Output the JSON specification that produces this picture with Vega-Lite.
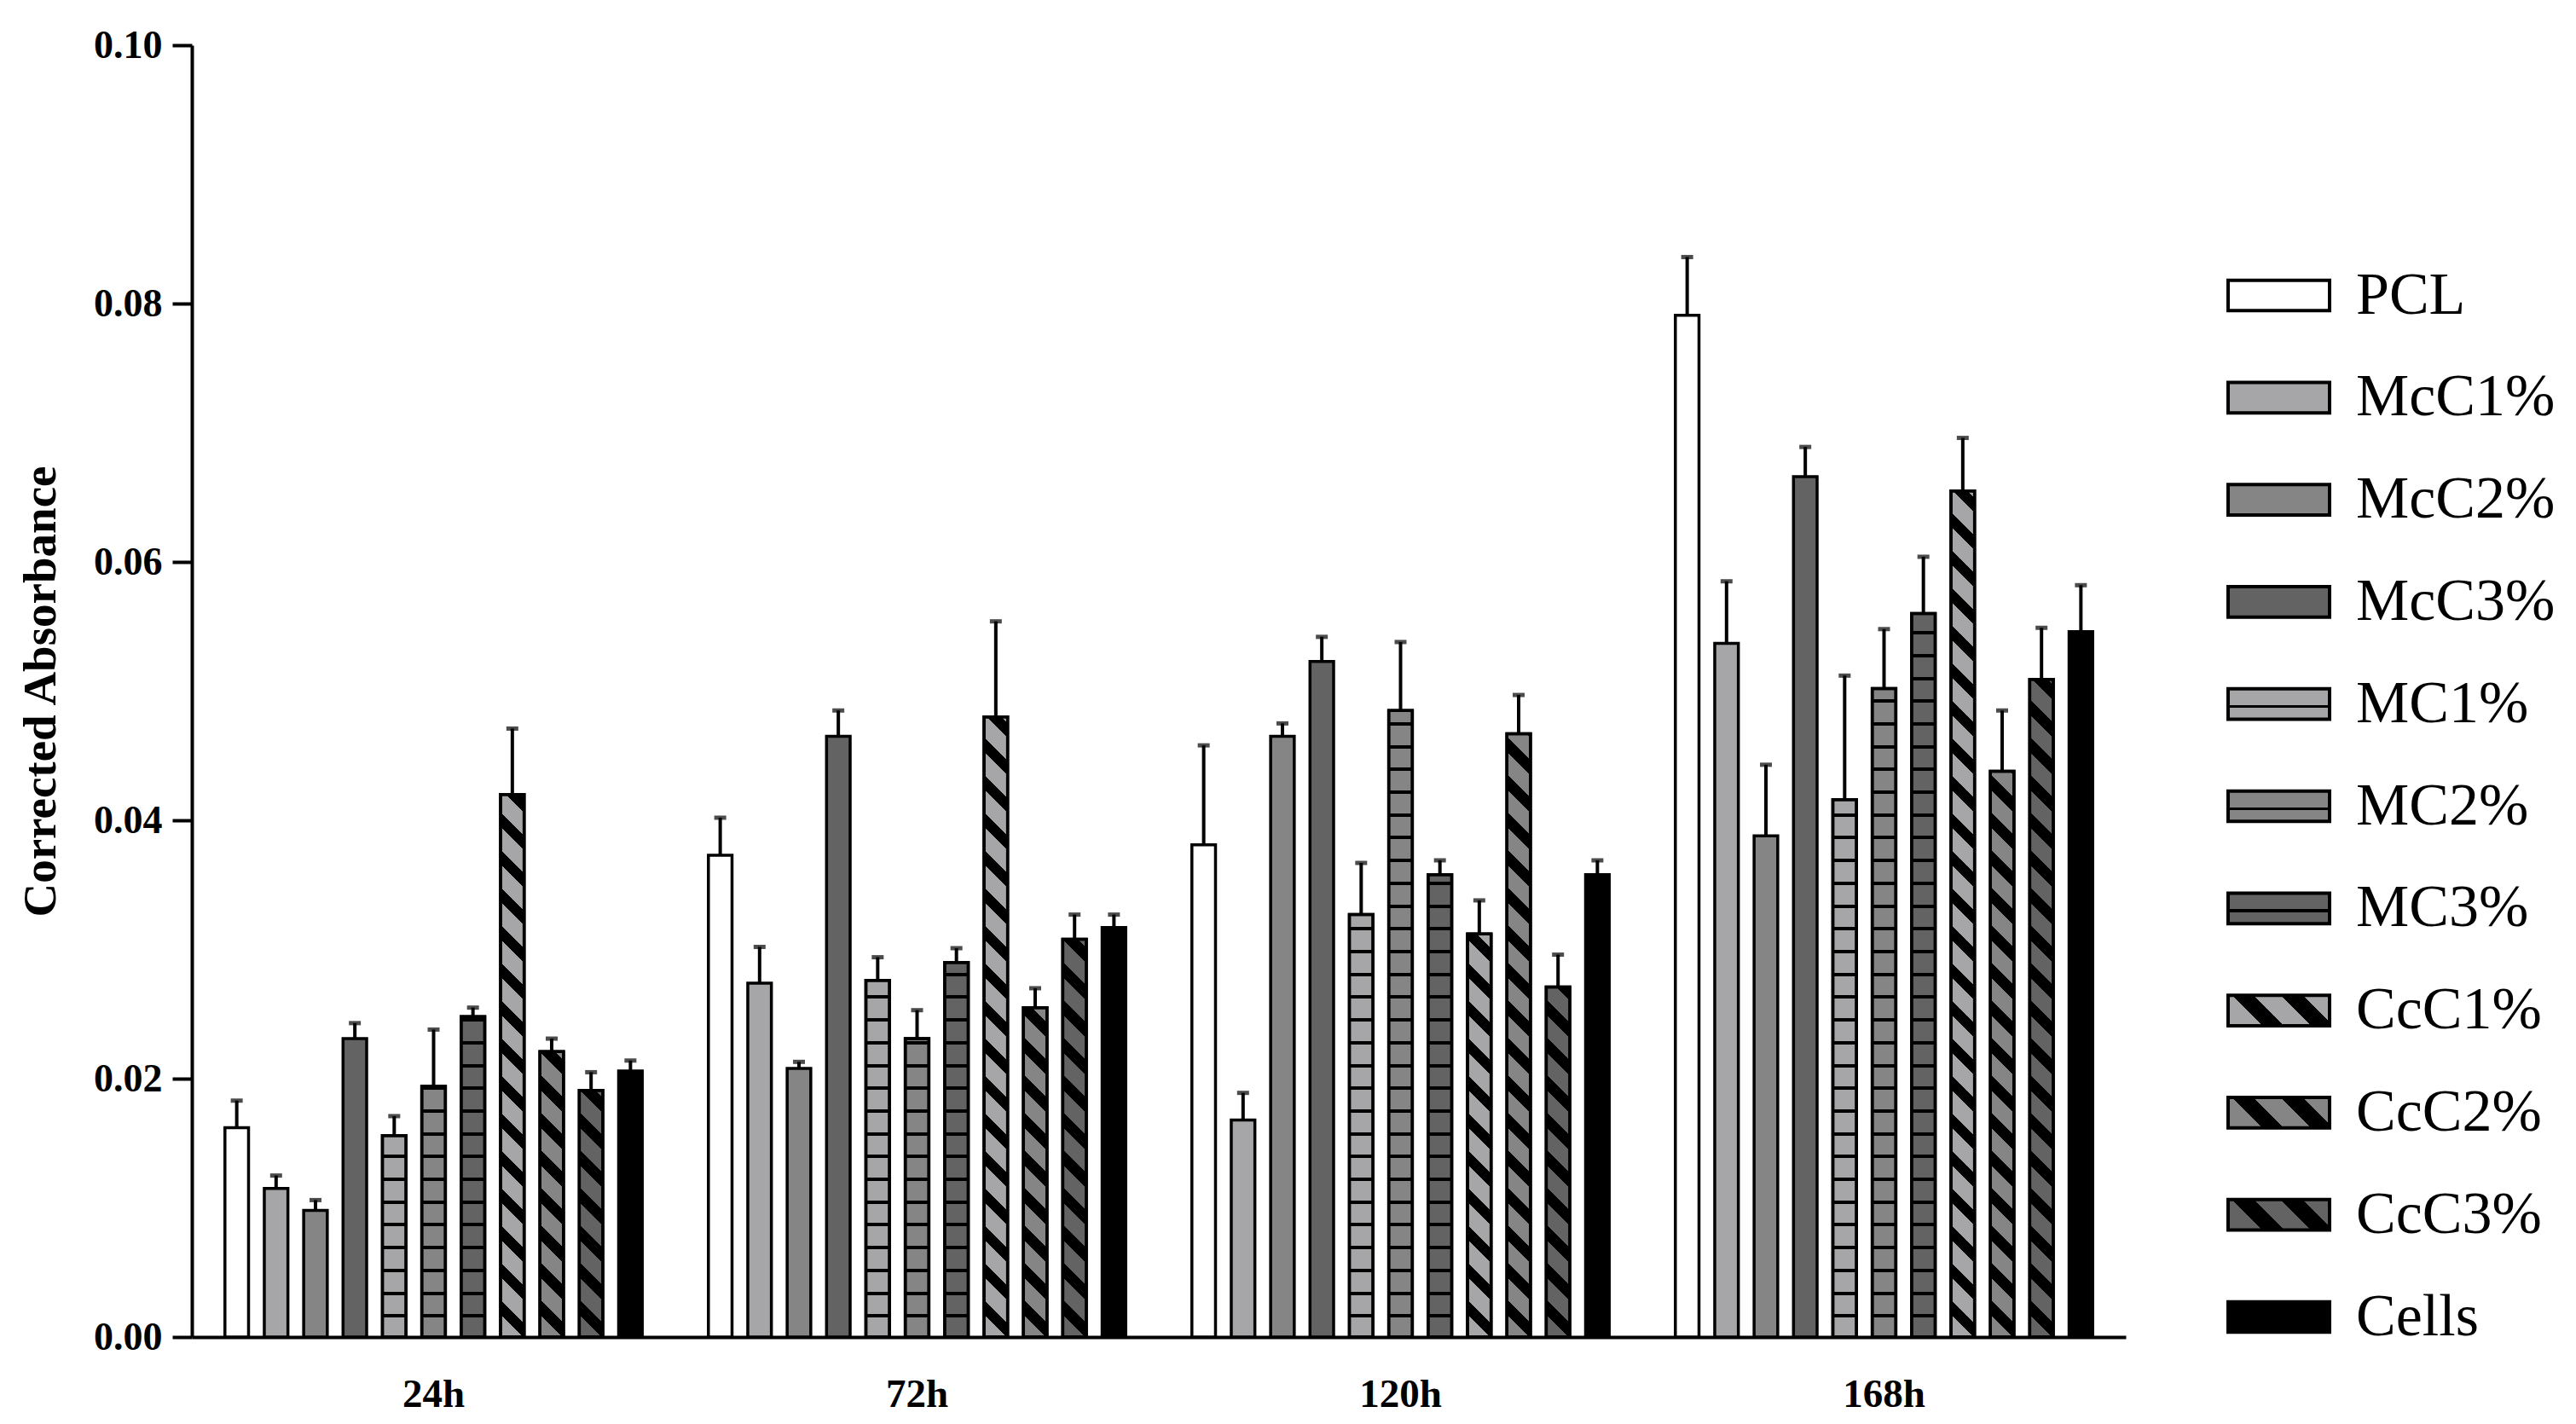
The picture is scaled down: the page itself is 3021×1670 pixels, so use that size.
{
  "$schema": "https://vega.github.io/schema/vega-lite/v6.json",
  "width": 2268,
  "height": 1515,
  "autosize": "none",
  "padding": {"left": 225, "top": 53, "right": 528, "bottom": 102},
  "background": "white",
  "params": [
    {"name": "hstops", "value": [
      {"offset":0,"color":"rgba(0,0,0,0)"},
      {"offset":0.02501,"color":"rgba(0,0,0,0)"},{"offset":0.02501,"color":"#000"},{"offset":0.02941,"color":"#000"},{"offset":0.02941,"color":"rgba(0,0,0,0)"},
      {"offset":0.05442,"color":"rgba(0,0,0,0)"},{"offset":0.05442,"color":"#000"},{"offset":0.05882,"color":"#000"},{"offset":0.05882,"color":"rgba(0,0,0,0)"},
      {"offset":0.08384,"color":"rgba(0,0,0,0)"},{"offset":0.08384,"color":"#000"},{"offset":0.08824,"color":"#000"},{"offset":0.08824,"color":"rgba(0,0,0,0)"},
      {"offset":0.11325,"color":"rgba(0,0,0,0)"},{"offset":0.11325,"color":"#000"},{"offset":0.11765,"color":"#000"},{"offset":0.11765,"color":"rgba(0,0,0,0)"},
      {"offset":0.14266,"color":"rgba(0,0,0,0)"},{"offset":0.14266,"color":"#000"},{"offset":0.14706,"color":"#000"},{"offset":0.14706,"color":"rgba(0,0,0,0)"},
      {"offset":0.17207,"color":"rgba(0,0,0,0)"},{"offset":0.17207,"color":"#000"},{"offset":0.17647,"color":"#000"},{"offset":0.17647,"color":"rgba(0,0,0,0)"},
      {"offset":0.20148,"color":"rgba(0,0,0,0)"},{"offset":0.20148,"color":"#000"},{"offset":0.20588,"color":"#000"},{"offset":0.20588,"color":"rgba(0,0,0,0)"},
      {"offset":0.23089,"color":"rgba(0,0,0,0)"},{"offset":0.23089,"color":"#000"},{"offset":0.23529,"color":"#000"},{"offset":0.23529,"color":"rgba(0,0,0,0)"},
      {"offset":0.26031,"color":"rgba(0,0,0,0)"},{"offset":0.26031,"color":"#000"},{"offset":0.26471,"color":"#000"},{"offset":0.26471,"color":"rgba(0,0,0,0)"},
      {"offset":0.28972,"color":"rgba(0,0,0,0)"},{"offset":0.28972,"color":"#000"},{"offset":0.29412,"color":"#000"},{"offset":0.29412,"color":"rgba(0,0,0,0)"},
      {"offset":0.31913,"color":"rgba(0,0,0,0)"},{"offset":0.31913,"color":"#000"},{"offset":0.32353,"color":"#000"},{"offset":0.32353,"color":"rgba(0,0,0,0)"},
      {"offset":0.34854,"color":"rgba(0,0,0,0)"},{"offset":0.34854,"color":"#000"},{"offset":0.35294,"color":"#000"},{"offset":0.35294,"color":"rgba(0,0,0,0)"},
      {"offset":0.37795,"color":"rgba(0,0,0,0)"},{"offset":0.37795,"color":"#000"},{"offset":0.38235,"color":"#000"},{"offset":0.38235,"color":"rgba(0,0,0,0)"},
      {"offset":0.40736,"color":"rgba(0,0,0,0)"},{"offset":0.40736,"color":"#000"},{"offset":0.41176,"color":"#000"},{"offset":0.41176,"color":"rgba(0,0,0,0)"},
      {"offset":0.43678,"color":"rgba(0,0,0,0)"},{"offset":0.43678,"color":"#000"},{"offset":0.44118,"color":"#000"},{"offset":0.44118,"color":"rgba(0,0,0,0)"},
      {"offset":0.46619,"color":"rgba(0,0,0,0)"},{"offset":0.46619,"color":"#000"},{"offset":0.47059,"color":"#000"},{"offset":0.47059,"color":"rgba(0,0,0,0)"},
      {"offset":0.4956,"color":"rgba(0,0,0,0)"},{"offset":0.4956,"color":"#000"},{"offset":0.5,"color":"#000"},{"offset":0.5,"color":"rgba(0,0,0,0)"},
      {"offset":0.52501,"color":"rgba(0,0,0,0)"},{"offset":0.52501,"color":"#000"},{"offset":0.52941,"color":"#000"},{"offset":0.52941,"color":"rgba(0,0,0,0)"},
      {"offset":0.55442,"color":"rgba(0,0,0,0)"},{"offset":0.55442,"color":"#000"},{"offset":0.55882,"color":"#000"},{"offset":0.55882,"color":"rgba(0,0,0,0)"},
      {"offset":0.58384,"color":"rgba(0,0,0,0)"},{"offset":0.58384,"color":"#000"},{"offset":0.58824,"color":"#000"},{"offset":0.58824,"color":"rgba(0,0,0,0)"},
      {"offset":0.61325,"color":"rgba(0,0,0,0)"},{"offset":0.61325,"color":"#000"},{"offset":0.61765,"color":"#000"},{"offset":0.61765,"color":"rgba(0,0,0,0)"},
      {"offset":0.64266,"color":"rgba(0,0,0,0)"},{"offset":0.64266,"color":"#000"},{"offset":0.64706,"color":"#000"},{"offset":0.64706,"color":"rgba(0,0,0,0)"},
      {"offset":0.67207,"color":"rgba(0,0,0,0)"},{"offset":0.67207,"color":"#000"},{"offset":0.67647,"color":"#000"},{"offset":0.67647,"color":"rgba(0,0,0,0)"},
      {"offset":0.70148,"color":"rgba(0,0,0,0)"},{"offset":0.70148,"color":"#000"},{"offset":0.70588,"color":"#000"},{"offset":0.70588,"color":"rgba(0,0,0,0)"},
      {"offset":0.73089,"color":"rgba(0,0,0,0)"},{"offset":0.73089,"color":"#000"},{"offset":0.73529,"color":"#000"},{"offset":0.73529,"color":"rgba(0,0,0,0)"},
      {"offset":0.76031,"color":"rgba(0,0,0,0)"},{"offset":0.76031,"color":"#000"},{"offset":0.76471,"color":"#000"},{"offset":0.76471,"color":"rgba(0,0,0,0)"},
      {"offset":0.78972,"color":"rgba(0,0,0,0)"},{"offset":0.78972,"color":"#000"},{"offset":0.79412,"color":"#000"},{"offset":0.79412,"color":"rgba(0,0,0,0)"},
      {"offset":0.81913,"color":"rgba(0,0,0,0)"},{"offset":0.81913,"color":"#000"},{"offset":0.82353,"color":"#000"},{"offset":0.82353,"color":"rgba(0,0,0,0)"},
      {"offset":0.84854,"color":"rgba(0,0,0,0)"},{"offset":0.84854,"color":"#000"},{"offset":0.85294,"color":"#000"},{"offset":0.85294,"color":"rgba(0,0,0,0)"},
      {"offset":0.87795,"color":"rgba(0,0,0,0)"},{"offset":0.87795,"color":"#000"},{"offset":0.88235,"color":"#000"},{"offset":0.88235,"color":"rgba(0,0,0,0)"},
      {"offset":0.90736,"color":"rgba(0,0,0,0)"},{"offset":0.90736,"color":"#000"},{"offset":0.91176,"color":"#000"},{"offset":0.91176,"color":"rgba(0,0,0,0)"},
      {"offset":0.93678,"color":"rgba(0,0,0,0)"},{"offset":0.93678,"color":"#000"},{"offset":0.94118,"color":"#000"},{"offset":0.94118,"color":"rgba(0,0,0,0)"},
      {"offset":0.96619,"color":"rgba(0,0,0,0)"},{"offset":0.96619,"color":"#000"},{"offset":0.97059,"color":"#000"},{"offset":0.97059,"color":"rgba(0,0,0,0)"},
      {"offset":0.9956,"color":"rgba(0,0,0,0)"},{"offset":0.9956,"color":"#000"},{"offset":1,"color":"#000"},{"offset":1,"color":"rgba(0,0,0,0)"}
    ]},
    {"name": "dstops", "value": [
      {"offset":0,"color":"rgba(0,0,0,0)"},
      {"offset":0.025,"color":"rgba(0,0,0,0)"},{"offset":0.025,"color":"#000"},{"offset":0.041667,"color":"#000"},{"offset":0.041667,"color":"rgba(0,0,0,0)"},
      {"offset":0.066667,"color":"rgba(0,0,0,0)"},{"offset":0.066667,"color":"#000"},{"offset":0.083333,"color":"#000"},{"offset":0.083333,"color":"rgba(0,0,0,0)"},
      {"offset":0.108333,"color":"rgba(0,0,0,0)"},{"offset":0.108333,"color":"#000"},{"offset":0.125,"color":"#000"},{"offset":0.125,"color":"rgba(0,0,0,0)"},
      {"offset":0.15,"color":"rgba(0,0,0,0)"},{"offset":0.15,"color":"#000"},{"offset":0.166667,"color":"#000"},{"offset":0.166667,"color":"rgba(0,0,0,0)"},
      {"offset":0.191667,"color":"rgba(0,0,0,0)"},{"offset":0.191667,"color":"#000"},{"offset":0.208333,"color":"#000"},{"offset":0.208333,"color":"rgba(0,0,0,0)"},
      {"offset":0.233333,"color":"rgba(0,0,0,0)"},{"offset":0.233333,"color":"#000"},{"offset":0.25,"color":"#000"},{"offset":0.25,"color":"rgba(0,0,0,0)"},
      {"offset":0.275,"color":"rgba(0,0,0,0)"},{"offset":0.275,"color":"#000"},{"offset":0.291667,"color":"#000"},{"offset":0.291667,"color":"rgba(0,0,0,0)"},
      {"offset":0.316667,"color":"rgba(0,0,0,0)"},{"offset":0.316667,"color":"#000"},{"offset":0.333333,"color":"#000"},{"offset":0.333333,"color":"rgba(0,0,0,0)"},
      {"offset":0.358333,"color":"rgba(0,0,0,0)"},{"offset":0.358333,"color":"#000"},{"offset":0.375,"color":"#000"},{"offset":0.375,"color":"rgba(0,0,0,0)"},
      {"offset":0.4,"color":"rgba(0,0,0,0)"},{"offset":0.4,"color":"#000"},{"offset":0.416667,"color":"#000"},{"offset":0.416667,"color":"rgba(0,0,0,0)"},
      {"offset":0.441667,"color":"rgba(0,0,0,0)"},{"offset":0.441667,"color":"#000"},{"offset":0.458333,"color":"#000"},{"offset":0.458333,"color":"rgba(0,0,0,0)"},
      {"offset":0.483333,"color":"rgba(0,0,0,0)"},{"offset":0.483333,"color":"#000"},{"offset":0.5,"color":"#000"},{"offset":0.5,"color":"rgba(0,0,0,0)"},
      {"offset":0.525,"color":"rgba(0,0,0,0)"},{"offset":0.525,"color":"#000"},{"offset":0.541667,"color":"#000"},{"offset":0.541667,"color":"rgba(0,0,0,0)"},
      {"offset":0.566667,"color":"rgba(0,0,0,0)"},{"offset":0.566667,"color":"#000"},{"offset":0.583333,"color":"#000"},{"offset":0.583333,"color":"rgba(0,0,0,0)"},
      {"offset":0.608333,"color":"rgba(0,0,0,0)"},{"offset":0.608333,"color":"#000"},{"offset":0.625,"color":"#000"},{"offset":0.625,"color":"rgba(0,0,0,0)"},
      {"offset":0.65,"color":"rgba(0,0,0,0)"},{"offset":0.65,"color":"#000"},{"offset":0.666667,"color":"#000"},{"offset":0.666667,"color":"rgba(0,0,0,0)"},
      {"offset":0.691667,"color":"rgba(0,0,0,0)"},{"offset":0.691667,"color":"#000"},{"offset":0.708333,"color":"#000"},{"offset":0.708333,"color":"rgba(0,0,0,0)"},
      {"offset":0.733333,"color":"rgba(0,0,0,0)"},{"offset":0.733333,"color":"#000"},{"offset":0.75,"color":"#000"},{"offset":0.75,"color":"rgba(0,0,0,0)"},
      {"offset":0.775,"color":"rgba(0,0,0,0)"},{"offset":0.775,"color":"#000"},{"offset":0.791667,"color":"#000"},{"offset":0.791667,"color":"rgba(0,0,0,0)"},
      {"offset":0.816667,"color":"rgba(0,0,0,0)"},{"offset":0.816667,"color":"#000"},{"offset":0.833333,"color":"#000"},{"offset":0.833333,"color":"rgba(0,0,0,0)"},
      {"offset":0.858333,"color":"rgba(0,0,0,0)"},{"offset":0.858333,"color":"#000"},{"offset":0.875,"color":"#000"},{"offset":0.875,"color":"rgba(0,0,0,0)"},
      {"offset":0.9,"color":"rgba(0,0,0,0)"},{"offset":0.9,"color":"#000"},{"offset":0.916667,"color":"#000"},{"offset":0.916667,"color":"rgba(0,0,0,0)"},
      {"offset":0.941667,"color":"rgba(0,0,0,0)"},{"offset":0.941667,"color":"#000"},{"offset":0.958333,"color":"#000"},{"offset":0.958333,"color":"rgba(0,0,0,0)"},
      {"offset":0.983333,"color":"rgba(0,0,0,0)"},{"offset":0.983333,"color":"#000"},{"offset":1,"color":"#000"},{"offset":1,"color":"rgba(0,0,0,0)"}
    ]}
  ],
  "data": {"values": [
    {"time":"24h","series":"PCL","value":0.0162,"upper":0.0183},
    {"time":"24h","series":"McC1%","value":0.0115,"upper":0.0125},
    {"time":"24h","series":"McC2%","value":0.0098,"upper":0.0106},
    {"time":"24h","series":"McC3%","value":0.0231,"upper":0.0243},
    {"time":"24h","series":"MC1%","value":0.0156,"upper":0.0171},
    {"time":"24h","series":"MC2%","value":0.0194,"upper":0.0238},
    {"time":"24h","series":"MC3%","value":0.0248,"upper":0.0255},
    {"time":"24h","series":"CcC1%","value":0.0420,"upper":0.0471},
    {"time":"24h","series":"CcC2%","value":0.0221,"upper":0.0231},
    {"time":"24h","series":"CcC3%","value":0.0191,"upper":0.0205},
    {"time":"24h","series":"Cells","value":0.0206,"upper":0.0214},
    {"time":"72h","series":"PCL","value":0.0373,"upper":0.0402},
    {"time":"72h","series":"McC1%","value":0.0274,"upper":0.0302},
    {"time":"72h","series":"McC2%","value":0.0208,"upper":0.0213},
    {"time":"72h","series":"McC3%","value":0.0465,"upper":0.0485},
    {"time":"72h","series":"MC1%","value":0.0276,"upper":0.0294},
    {"time":"72h","series":"MC2%","value":0.0231,"upper":0.0253},
    {"time":"72h","series":"MC3%","value":0.0290,"upper":0.0301},
    {"time":"72h","series":"CcC1%","value":0.0480,"upper":0.0554},
    {"time":"72h","series":"CcC2%","value":0.0255,"upper":0.0270},
    {"time":"72h","series":"CcC3%","value":0.0308,"upper":0.0327},
    {"time":"72h","series":"Cells","value":0.0317,"upper":0.0327},
    {"time":"120h","series":"PCL","value":0.0381,"upper":0.0458},
    {"time":"120h","series":"McC1%","value":0.0168,"upper":0.0189},
    {"time":"120h","series":"McC2%","value":0.0465,"upper":0.0475},
    {"time":"120h","series":"McC3%","value":0.0523,"upper":0.0542},
    {"time":"120h","series":"MC1%","value":0.0327,"upper":0.0367},
    {"time":"120h","series":"MC2%","value":0.0485,"upper":0.0538},
    {"time":"120h","series":"MC3%","value":0.0358,"upper":0.0369},
    {"time":"120h","series":"CcC1%","value":0.0312,"upper":0.0338},
    {"time":"120h","series":"CcC2%","value":0.0467,"upper":0.0497},
    {"time":"120h","series":"CcC3%","value":0.0271,"upper":0.0296},
    {"time":"120h","series":"Cells","value":0.0358,"upper":0.0369},
    {"time":"168h","series":"PCL","value":0.0791,"upper":0.0836},
    {"time":"168h","series":"McC1%","value":0.0537,"upper":0.0585},
    {"time":"168h","series":"McC2%","value":0.0388,"upper":0.0443},
    {"time":"168h","series":"McC3%","value":0.0666,"upper":0.0689},
    {"time":"168h","series":"MC1%","value":0.0416,"upper":0.0512},
    {"time":"168h","series":"MC2%","value":0.0502,"upper":0.0548},
    {"time":"168h","series":"MC3%","value":0.0560,"upper":0.0604},
    {"time":"168h","series":"CcC1%","value":0.0655,"upper":0.0696},
    {"time":"168h","series":"CcC2%","value":0.0438,"upper":0.0485},
    {"time":"168h","series":"CcC3%","value":0.0509,"upper":0.0549},
    {"time":"168h","series":"Cells","value":0.0546,"upper":0.0582}
  ]},
  "encoding": {
    "x": {"field": "time", "type": "nominal", "sort": null, "title": null,
          "scale": {"domain": ["24h","72h","120h","168h"], "paddingInner": 0, "paddingOuter": 0}},
    "xOffset": {"field": "series", "type": "nominal", "sort": null,
          "scale": {"domain": ["PCL","McC1%","McC2%","McC3%","MC1%","MC2%","MC3%","CcC1%","CcC2%","CcC3%","Cells"], "paddingInner": 0.4, "paddingOuter": 0.84}}
  },
  "layer": [
    {
      "mark": {"type": "bar", "stroke": "black", "strokeWidth": 3.5},
      "encoding": {
        "y": {"field": "value", "type": "quantitative", "stack": null, "title": "Corrected Absorbance",
              "scale": {"domain": [0, 0.1], "nice": false, "zero": true},
              "axis": {"values": [0, 0.02, 0.04, 0.06, 0.08, 0.1], "format": ".2f"}},
        "fill": {"field": "series", "type": "nominal", "sort": null, "legend": null,
          "scale": {"range": ["#ffffff","#a6a6a9","#858585","#636363","#a6a6a9","#858585","#636363","#a6a6a9","#858585","#636363","#000000"]}},
        "opacity": {"field": "series", "type": "ordinal",
          "scale": {"domain": ["PCL","McC1%","McC2%","McC3%","MC1%","MC2%","MC3%","CcC1%","CcC2%","CcC3%","Cells"],
                    "range": [1,1,1,1,1,1,1,1,1,1,1]},
          "legend": {
            "orient": "none", "legendX": 2386, "legendY": 232, "title": null, "padding": 0, "offset": 0,
            "symbolType": "M-1,-0.3H1V0.3H-1Z", "symbolSize": 14161, "symbolStrokeWidth": 4, "symbolStrokeColor": "black", "symbolOpacity": 1,
            "labelFont": "Liberation Serif", "labelFontSize": 70, "labelFontWeight": "normal", "labelColor": "black",
            "labelOffset": 29, "rowPadding": 22.8, "labelLimit": 0,
            "symbolFillColor": {"expr": "slice(datum.value,0,2)==='MC' ? {gradient:'linear',x1:0,y1:0,x2:0,y2:1,stops:[{offset:0,color:(indexof(datum.value,'1%')>=0?'#a6a6a9':indexof(datum.value,'2%')>=0?'#858585':'#636363')},{offset:0.53,color:(indexof(datum.value,'1%')>=0?'#a6a6a9':indexof(datum.value,'2%')>=0?'#858585':'#636363')},{offset:0.53,color:'#000'},{offset:0.63,color:'#000'},{offset:0.63,color:(indexof(datum.value,'1%')>=0?'#a6a6a9':indexof(datum.value,'2%')>=0?'#858585':'#636363')},{offset:1,color:(indexof(datum.value,'1%')>=0?'#a6a6a9':indexof(datum.value,'2%')>=0?'#858585':'#636363')}]} : slice(datum.value,0,3)==='CcC' ? {gradient:'linear',x1:0,y1:1,x2:1.1926,y2:0.6422,stops:[{offset:0,color:'#000'},{offset:0.02,color:'#000'},{offset:0.02,color:(indexof(datum.value,'1%')>=0?'#a6a6a9':indexof(datum.value,'2%')>=0?'#858585':'#636363')},{offset:0.26,color:(indexof(datum.value,'1%')>=0?'#a6a6a9':indexof(datum.value,'2%')>=0?'#858585':'#636363')},{offset:0.26,color:'#000'},{offset:0.425,color:'#000'},{offset:0.425,color:(indexof(datum.value,'1%')>=0?'#a6a6a9':indexof(datum.value,'2%')>=0?'#858585':'#636363')},{offset:0.63,color:(indexof(datum.value,'1%')>=0?'#a6a6a9':indexof(datum.value,'2%')>=0?'#858585':'#636363')},{offset:0.63,color:'#000'},{offset:0.795,color:'#000'},{offset:0.795,color:(indexof(datum.value,'1%')>=0?'#a6a6a9':indexof(datum.value,'2%')>=0?'#858585':'#636363')},{offset:1,color:(indexof(datum.value,'1%')>=0?'#a6a6a9':indexof(datum.value,'2%')>=0?'#858585':'#636363')}]} : datum.value==='PCL' ? '#ffffff' : datum.value==='Cells' ? '#000000' : indexof(datum.value,'1%')>=0 ? '#a6a6a9' : indexof(datum.value,'2%')>=0 ? '#858585' : '#636363'"}
          }
        }
      }
    },
    {
      "transform": [{"filter": "slice(datum.series,0,2)==='MC' || slice(datum.series,0,3)==='CcC'"}],
      "mark": {"type": "bar", "stroke": "black", "strokeWidth": 3.5},
      "encoding": {
        "y": {"field": "value", "type": "quantitative", "stack": null, "title": "Corrected Absorbance"},
        "fill": {"value": {"expr": "slice(datum.series,0,2)==='MC' ? {gradient:'linear',x1:0,y1:1,x2:0,y2:1-908/(scale('y',0)-scale('y',datum.value)),stops:hstops} : {gradient:'linear',x1:0,y1:1,x2:1056*bandwidth('xOffset')/(pow(bandwidth('xOffset'),2)+pow(scale('y',0)-scale('y',datum.value),2)),y2:1-1056*(scale('y',0)-scale('y',datum.value))/(pow(bandwidth('xOffset'),2)+pow(scale('y',0)-scale('y',datum.value),2)),stops:dstops}"}}
      }
    },
    {
      "mark": {"type": "rule", "color": "black", "strokeWidth": 4},
      "encoding": {
        "y": {"field": "value", "type": "quantitative", "title": "Corrected Absorbance"},
        "y2": {"field": "upper"}
      }
    },
    {
      "mark": {"type": "tick", "color": "black", "thickness": 5, "size": 14},
      "encoding": {
        "y": {"field": "upper", "type": "quantitative", "title": "Corrected Absorbance"}
      }
    }
  ],
  "config": {
    "view": {"stroke": null},
    "font": "Liberation Serif",
    "axis": {"domainColor": "black", "domainWidth": 4, "tickColor": "black", "tickWidth": 4,
             "labelColor": "black", "titleColor": "black", "grid": false,
             "labelFont": "Liberation Serif", "titleFont": "Liberation Serif",
             "labelFontWeight": "bold", "titleFontWeight": "bold"},
    "axisY": {"tickSize": 23, "labelPadding": 12, "labelFontSize": 46, "titleFontSize": 55, "titlePadding": 33},
    "axisX": {"ticks": false, "tickSize": 0, "labelPadding": 44, "labelFontSize": 47, "labelAngle": 0}
  }
}
